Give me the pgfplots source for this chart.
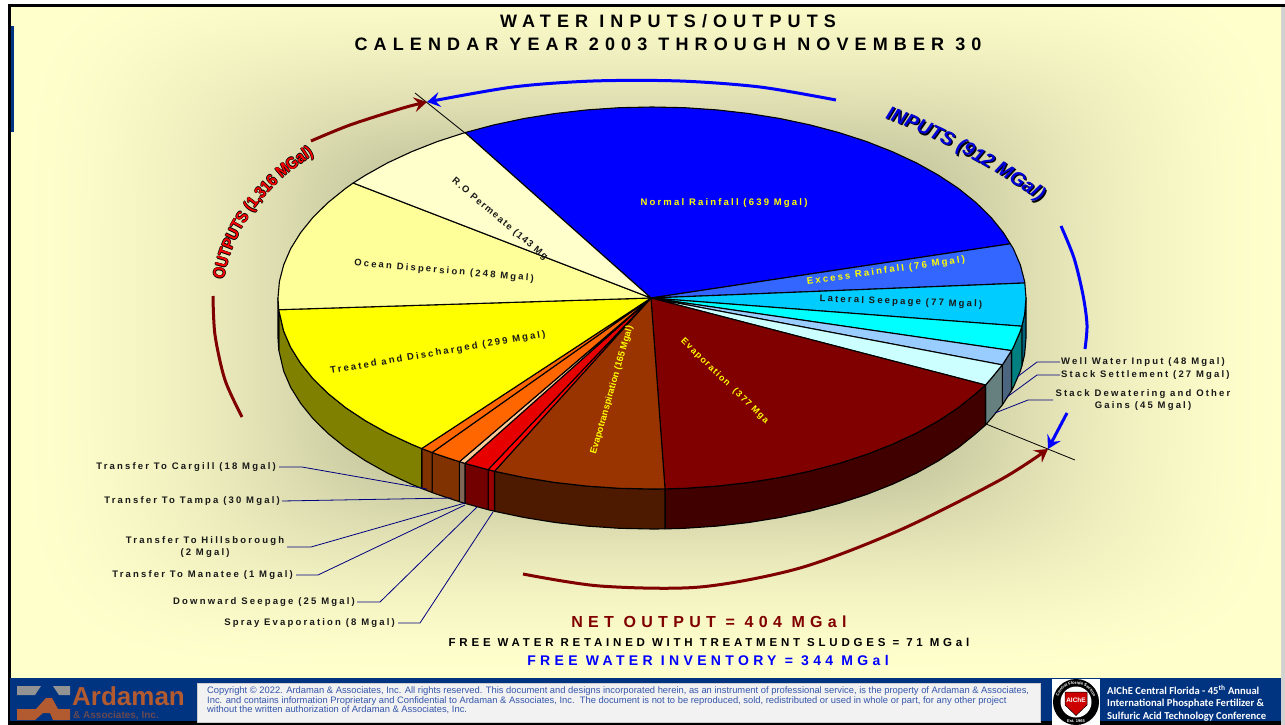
\documentclass[border=0pt]{standalone}
\usepackage{pgfplots}
\pgfplotsset{compat=1.18}
\usepackage{fontspec}
\usetikzlibrary{arrows.meta,decorations.text}
\setmainfont{Liberation Sans}
\newfontfamily\ls[LetterSpace=23]{Liberation Sans}
\newfontfamily\lsS[LetterSpace=14]{Liberation Sans}
\newfontfamily\lsT[LetterSpace=34]{Liberation Sans}
\newfontfamily\lsN[LetterSpace=31]{Liberation Sans}
\newfontfamily\lsR[LetterSpace=33]{Liberation Sans}
\newfontfamily\lsM[LetterSpace=33]{Liberation Sans}
\newfontfamily\lsOut[FakeStretch=0.88]{Liberation Sans}
\newfontfamily\car{Carlito}
\pgfdeclarefunctionalshading{bgshade}{\pgfpoint{0bp}{0bp}}{\pgfpoint{100bp}{100bp}}{}{
 50 sub 25 div dup mul dup dup mul mul
 exch 50 sub 25 div dup mul dup dup mul mul
 add 0.16667 exp
 0.4 sub 0.6 div
 dup 0 lt {pop 0} if
 dup 1 gt {pop 1} if
 1 exch sub 1.7 exp
 0.25 mul 1 exch sub
 dup dup 0.8 mul
}
\definecolor{navyband}{RGB}{0,51,128}
\definecolor{darkred}{RGB}{128,0,0}
\definecolor{leader}{RGB}{0,0,128}
\definecolor{pyellow}{RGB}{255,255,0}
\definecolor{pcyan}{RGB}{0,255,255}
\definecolor{pteal}{RGB}{0,128,128}
\definecolor{pblue}{RGB}{0,0,255}
\definecolor{pred}{RGB}{255,0,0}
\definecolor{bgyellow}{RGB}{255,255,204}
\definecolor{ardorange}{RGB}{178,90,48}
\definecolor{copyblue}{RGB}{51,85,170}
\newcommand{\sz}[1]{\fontsize{#1}{#1}\selectfont}
\tikzset{lab/.style={font=\ls\bfseries\sz{9.5},text=black!90,inner sep=0pt,align=center},
 wedge/.style={draw=black,line width=1.1pt,line join=round},
 lead/.style={draw=leader,line width=0.8pt},
 arr/.style={line width=3pt,-{Stealth[length=13pt,width=15pt,inset=5pt]}},
 arc/.style={line width=3pt,smooth}}
\begin{document}
\begin{tikzpicture}
\begin{axis}[hide axis,scale only axis,width=1285pt,height=725pt,xmin=0,xmax=1285,ymin=0,ymax=725,y dir=reverse,clip=false]
% page background and frame
\addplot[fill=white,draw=none] coordinates {(0,0)(1285,0)(1285,725)(0,725)} --cycle;
\addplot[fill=bgyellow,draw=none] coordinates {(11,7)(1281,7)(1281,678)(11,678)} --cycle;
\addplot[fill=black!18,draw=none] coordinates {(1281,7)(1285,7)(1285,725)(1281,725)} --cycle;
\begin{scope}
\clip (axis cs:11,7) rectangle (axis cs:1281,678);
\path[shading=bgshade] (axis cs:11,-42) rectangle (axis cs:1293,678);
\end{scope}
\addplot[fill=black,draw=none] coordinates {(8,4.5)(1285,4.5)(1285,7)(8,7)} --cycle;
\addplot[fill=black,draw=none] coordinates {(8,4.5)(10.5,4.5)(10.5,725)(8,725)} --cycle;
\addplot[fill=navyband,draw=none] coordinates {(11,26)(14,26)(14,132)(11,132)} --cycle;
% footer
\addplot[fill=navyband,draw=none] coordinates {(10,678)(1281,678)(1281,721)(10,721)} --cycle;
\addplot[fill=black,draw=none] coordinates {(8,721)(1281,721)(1281,725)(8,725)} --cycle;
\addplot[fill=gray!85,draw=none] coordinates {(17,686)(41,686)(35,695)(17,695)} --cycle;
\addplot[fill=gray!85,draw=none] coordinates {(53,686)(70,686)(70,695)(59,695)} --cycle;
\addplot[fill=ardorange,draw=none] coordinates {(17,709)(36,709)(46,698)(52,698)(58,709)(70,709)(70,720)(53,720)(50,713)(43,713)(35,720)(17,720)} --cycle;
\node[anchor=west,inner sep=0pt,text=ardorange,font=\bfseries\sz{26}] at (axis cs:72,696) {Ardaman};
\node[anchor=west,inner sep=0pt,text=ardorange!60!navyband,font=\bfseries\sz{10}] at (axis cs:73,716) {\& Associates, Inc.};
\addplot[fill=black!5,draw=black!20,line width=0.6pt] coordinates {(197,683)(1040,683)(1040,722)(197,722)} --cycle;
\node[anchor=north west,inner sep=0pt,text=copyblue,font=\fontsize{9.37}{9.5}\selectfont,align=left] at (axis cs:207,687) {Copyright © 2022. Ardaman \& Associates, Inc. All rights reserved. This document and designs incorporated herein, as an instrument of professional service, is the property of Ardaman \& Associates,\\Inc. and contains information Proprietary and Confidential to Ardaman \& Associates, Inc.\ \ The document is not to be reproduced, sold, redistributed or used in whole or part, for any other project\\without the written authorization of Ardaman \& Associates, Inc.};
\addplot[fill=white,draw=none] coordinates {(1052,679)(1100,679)(1100,725)(1052,725)} --cycle;
\fill[black] (axis cs:1076,702) circle [radius=23pt];
\fill[white] (axis cs:1076,702) circle [radius=15.5pt];
\addplot[fill=red!80!black,draw=black,line width=0.5pt] coordinates {(1065,692)(1087,692)(1087,705)(1076,715.5)(1065,705)} --cycle;
\node[inner sep=0pt,text=white,font=\bfseries\sz{6.5}] at (axis cs:1076,700) {AIChE};
\path[decorate,decoration={text along path,text align=center,text={|\color{white}\bfseries\sz{4.2}|Central Florida Section}}] (axis cs:1058,702) arc [start angle=180,end angle=0,radius=18pt];
\node[inner sep=0pt,text=white,font=\bfseries\sz{4}] at (axis cs:1076,721) {Est. 1965};
\node[anchor=west,inner sep=0pt,text=white,font=\car\bfseries\sz{10.6},align=left] at (axis cs:1107,703) {AIChE Central Florida - 45\textsuperscript{th} Annual\\[2pt]International Phosphate Fertilizer \&\\[2pt]Sulfuric Acid Technology Conference};
% sides of the pie
\addplot[fill={rgb,255:red,0;green,102;blue,128},wedge] coordinates {(1026,298)(1024.6,314.6)(1021.8,326.2)(1021.8,366.2)(1024.6,354.6)(1026,338)} --cycle;
\addplot[fill=pteal,wedge] coordinates {(1021.8,326.2)(1020.3,331.2)(1013.3,347.4)(1011.5,350.6)(1011.5,390.6)(1013.3,387.4)(1020.3,371.2)(1021.8,366.2)} --cycle;
\addplot[fill={rgb,255:red,77;green,102;blue,128},wedge] coordinates {(1011.5,350.6)(1003.4,363.3)(1002.3,364.9)(1002.3,404.9)(1003.4,403.3)(1011.5,390.6)} --cycle;
\addplot[fill={rgb,255:red,102;green,128;blue,128},wedge] coordinates {(1002.3,364.9)(991,378.7)(985.5,385)(985.5,425)(991,418.7)(1002.3,404.9)} --cycle;
\addplot[fill={rgb,255:red,64;green,0;blue,0},wedge] coordinates {(985.5,385)(975.9,393.5)(958.4,407.6)(938.5,420.8)(916.5,433.1)(892.4,444.3)(866.5,454.5)(839,463.4)(810.1,471.1)(779.9,477.5)(748.8,482.5)(716.9,486.1)(684.6,488.3)(665,488.9)(665,528.9)(684.6,528.3)(716.9,526.1)(748.8,522.5)(779.9,517.5)(810.1,511.1)(839,503.4)(866.5,494.5)(892.4,484.3)(916.5,473.1)(938.5,460.8)(958.4,447.6)(975.9,433.5)(985.5,425)} --cycle;
\addplot[fill={rgb,255:red,77;green,26;blue,0},wedge] coordinates {(665,488.9)(652,489)(619.4,488.3)(587.1,486.1)(555.2,482.5)(524.1,477.5)(494.5,471.3)(494.5,511.3)(524.1,517.5)(555.2,522.5)(587.1,526.1)(619.4,528.3)(652,529)(665,528.9)} --cycle;
\addplot[fill={rgb,255:red,153;green,0;blue,0},wedge] coordinates {(494.5,471.3)(488.1,469.7)(488.1,509.7)(494.5,511.3)} --cycle;
\addplot[fill={rgb,255:red,115;green,0;blue,0},wedge] coordinates {(488.1,469.7)(465,463.4)(465,503.4)(488.1,509.7)} --cycle;
\addplot[fill={rgb,255:red,128;green,102;blue,85},wedge] coordinates {(465,463.4)(459.4,461.7)(459.4,501.7)(465,503.4)} --cycle;
\addplot[fill={rgb,255:red,128;green,51;blue,0},wedge] coordinates {(459.4,461.7)(437.5,454.5)(432.1,452.5)(432.1,492.5)(437.5,494.5)(459.4,501.7)} --cycle;
\addplot[fill={rgb,255:red,128;green,51;blue,0},wedge] coordinates {(432.1,452.5)(421.7,448.5)(421.7,488.5)(432.1,492.5)} --cycle;
\addplot[fill={rgb,255:red,128;green,128;blue,0},wedge] coordinates {(421.7,448.5)(411.6,444.3)(387.5,433.1)(365.5,420.8)(345.6,407.6)(328.1,393.5)(313,378.7)(300.6,363.3)(290.7,347.4)(283.7,331.2)(278.7,309.7)(278.7,349.7)(283.7,371.2)(290.7,387.4)(300.6,403.3)(313,418.7)(328.1,433.5)(345.6,447.6)(365.5,460.8)(387.5,473.1)(411.6,484.3)(421.7,488.5)} --cycle;
\addplot[fill={rgb,255:red,128;green,128;blue,77},wedge] coordinates {(278.7,309.7)(278,298)(278,338)(278.7,349.7)} --cycle;
% top of the pie
\addplot[fill=pblue,wedge] coordinates {(651,298)(465,132.6)(493.9,124.9)(524.1,118.5)(555.2,113.5)(587.1,109.9)(619.4,107.7)(652,107)(684.6,107.7)(716.9,109.9)(748.8,113.5)(779.9,118.5)(810.1,124.9)(839,132.6)(866.5,141.5)(892.4,151.7)(916.5,162.9)(938.5,175.2)(958.4,188.4)(975.9,202.5)(991,217.3)(1003.4,232.7)(1010.3,243.8)} --cycle;
\addplot[fill={rgb,255:red,51;green,102;blue,255},wedge] coordinates {(651,298)(1010.3,243.8)(1013.3,248.6)(1020.3,264.8)(1024.6,281.4)(1024.8,283)} --cycle;
\addplot[fill={rgb,255:red,0;green,204;blue,255},wedge] coordinates {(651,298)(1024.8,283)(1026,298)(1024.6,314.6)(1021.8,326.2)} --cycle;
\addplot[fill=pcyan,wedge] coordinates {(651,298)(1021.8,326.2)(1020.3,331.2)(1013.3,347.4)(1011.5,350.6)} --cycle;
\addplot[fill={rgb,255:red,153;green,204;blue,255},wedge] coordinates {(651,298)(1011.5,350.6)(1003.4,363.3)(1002.3,364.9)} --cycle;
\addplot[fill={rgb,255:red,204;green,255;blue,255},wedge] coordinates {(651,298)(1002.3,364.9)(991,378.7)(985.5,385)} --cycle;
\addplot[fill={rgb,255:red,128;green,0;blue,0},wedge] coordinates {(651,298)(985.5,385)(975.9,393.5)(958.4,407.6)(938.5,420.8)(916.5,433.1)(892.4,444.3)(866.5,454.5)(839,463.4)(810.1,471.1)(779.9,477.5)(748.8,482.5)(716.9,486.1)(684.6,488.3)(665,488.9)} --cycle;
\addplot[fill={rgb,255:red,153;green,51;blue,0},wedge] coordinates {(651,298)(665,488.9)(652,489)(619.4,488.3)(587.1,486.1)(555.2,482.5)(524.1,477.5)(494.5,471.3)} --cycle;
\addplot[fill=pred,wedge] coordinates {(651,298)(494.5,471.3)(488.1,469.7)} --cycle;
\addplot[fill={rgb,255:red,230;green,0;blue,0},wedge] coordinates {(651,298)(488.1,469.7)(465,463.4)} --cycle;
\addplot[fill={rgb,255:red,255;green,204;blue,153},wedge] coordinates {(651,298)(465,463.4)(459.4,461.7)} --cycle;
\addplot[fill={rgb,255:red,255;green,102;blue,0},wedge] coordinates {(651,298)(459.4,461.7)(437.5,454.5)(432.1,452.5)} --cycle;
\addplot[fill={rgb,255:red,255;green,102;blue,0},wedge] coordinates {(651,298)(432.1,452.5)(421.7,448.5)} --cycle;
\addplot[fill=pyellow,wedge] coordinates {(651,298)(421.7,448.5)(411.6,444.3)(387.5,433.1)(365.5,420.8)(345.6,407.6)(328.1,393.5)(313,378.7)(300.6,363.3)(290.7,347.4)(283.7,331.2)(278.7,309.7)} --cycle;
\addplot[fill={rgb,255:red,255;green,255;blue,153},wedge] coordinates {(651,298)(278.7,309.7)(278,298)(279.4,281.4)(283.7,264.8)(290.7,248.6)(300.6,232.7)(313,217.3)(328.1,202.5)(345.6,188.4)(353.2,183)} --cycle;
\addplot[fill={rgb,255:red,255;green,255;blue,204},wedge] coordinates {(651,298)(353.2,183)(365.5,175.2)(387.5,162.9)(411.6,151.7)(437.5,141.5)(465,132.6)} --cycle;
% thin black separators
\addplot[black,line width=0.8pt] coordinates {(415,93)(465,133)};
\addplot[black,line width=0.8pt] coordinates {(986,424)(1075,460)};
% arrows
\addplot[pblue,arr,smooth] coordinates {(836,100)(760,87)(680,81)(593,81)(513,87)(427,102)};
\addplot[pblue,arc] coordinates {(1061,226)(1074,258)(1083,295)(1087,325)(1085,349)};
\addplot[pblue,arr] coordinates {(1067,413)(1048,449)};
\addplot[darkred,arr,smooth] coordinates {(311,141)(350,125)(403,108)(427,102)};
\addplot[darkred,arc] coordinates {(213,296)(215,335)(225,380)(242,417)};
\addplot[darkred,arr,smooth] coordinates {(523,574)(600,586)(700,587)(800,568)(900,530)(1000,480)(1048,449)};
% leaders
\addplot[lead] coordinates {(1060,362)(1037,362)(1017,377)};
\addplot[lead] coordinates {(1060,375)(1037,375)(1007,397)};
\addplot[lead] coordinates {(1053,400)(1028,400)(995,413)};
\addplot[lead] coordinates {(279,467)(302,467)(427,489)};
\addplot[lead] coordinates {(282,501)(452,498)};
\addplot[lead] coordinates {(287,547)(311,547)(465,503)};
\addplot[lead] coordinates {(296,575)(318,575)(465,505)};
\addplot[lead] coordinates {(357,602)(380,602)(477,507)};
\addplot[lead] coordinates {(398,623)(420,623)(493,512)};
% curved captions
\newcommand{\inpath}[2]{\path[decorate,decoration={text along path,text align=center,text={|\color{#1}\bfseries\itshape\sz{19.5}|INPUTS (912 MGal)}}] (axis cs:#2) .. controls (axis cs:930,135) and (axis cs:990,165) .. (axis cs:1041,203);}
\begin{scope}[shift={(1.2pt,-1.2pt)}]\inpath{black}{883,118}\end{scope}
\inpath{blue!85!black}{883,118}
\newcommand{\outpath}[1]{\path[decorate,decoration={text along path,text align=center,text={|\color{#1}\lsOut\bfseries\sz{16.5}|OUTPUTS (1,316 MGal)}}] (axis cs:224,280) .. controls (axis cs:232,230) and (axis cs:265,185) .. (axis cs:314,155);}
\begin{scope}[shift={(0.7pt,0pt)}]\outpath{black}\end{scope}
\begin{scope}[shift={(-0.7pt,0pt)}]\outpath{black}\end{scope}
\begin{scope}[shift={(0pt,0.7pt)}]\outpath{black}\end{scope}
\begin{scope}[shift={(0pt,-0.7pt)}]\outpath{black}\end{scope}
\outpath{pred}
% pie labels
\node[lab,text=pyellow] at (axis cs:724,203) {Normal Rainfall (639 Mgal)};
\node[lab,text=pyellow,rotate=8] at (axis cs:886,271) {Excess Rainfall (76 Mgal)};
\node[lab,rotate=-2] at (axis cs:901,302) {Lateral Seepage (77 Mgal)};
\node[lab,rotate=-40,anchor=west,font=\lsS\bfseries\sz{9.5}] at (axis cs:453,180) {R.O Permeate (143 Mg};
\node[lab,rotate=-5] at (axis cs:444,271) {Ocean Dispersion (248 Mgal)};
\node[lab,rotate=9.7] at (axis cs:438,353) {Treated and Discharged (299 Mgal)};
\node[lab,text=pyellow,rotate=74,font=\bfseries\sz{9.3}] at (axis cs:612,390) {Evapotranspiration (165 Mgal)};
\node[lab,text=pyellow,rotate=-44,anchor=west,font=\lsS\bfseries\sz{9}] at (axis cs:682,340) {Evaporation\ \ (377 Mga};
% outside labels
\node[lab,anchor=west] at (axis cs:1061,362) {Well Water Input (48 Mgal)};
\node[lab,anchor=west] at (axis cs:1061,375) {Stack Settlement (27 Mgal)};
\node[lab] at (axis cs:1143,400) {Stack Dewatering and Other\\[3pt]Gains (45 Mgal)};
\node[lab,anchor=east] at (axis cs:276,467) {Transfer To Cargill (18 Mgal)};
\node[lab,anchor=east] at (axis cs:280,501) {Transfer To Tampa (30 Mgal)};
\node[lab] at (axis cs:205,547) {Transfer To Hillsborough\\[3pt](2 Mgal)};
\node[lab,anchor=east] at (axis cs:293,575) {Transfer To Manatee (1 Mgal)};
\node[lab,anchor=east] at (axis cs:355,602) {Downward Seepage (25 Mgal)};
\node[lab,anchor=east] at (axis cs:395,623) {Spray Evaporation (8 Mgal)};
% title and totals
\node[inner sep=0pt,font=\lsT\bfseries\sz{18}] at (axis cs:668,21) {WATER INPUTS/OUTPUTS};
\node[inner sep=0pt,font=\lsT\bfseries\sz{18}] at (axis cs:668,44) {CALENDAR YEAR 2003 THROUGH NOVEMBER 30};
\node[inner sep=0pt,text=darkred,font=\lsM\bfseries\sz{16}] at (axis cs:709,622) {NET OUTPUT = 404 MGal};
\node[inner sep=0pt,font=\lsR\bfseries\sz{11.5}] at (axis cs:709,642) {FREE WATER RETAINED WITH TREATMENT SLUDGES = 71 MGal};
\node[inner sep=0pt,text=pblue,font=\lsN\bfseries\sz{14}] at (axis cs:708,660) {FREE WATER INVENTORY = 344 MGal};
\end{axis}
\end{tikzpicture}
\end{document}
